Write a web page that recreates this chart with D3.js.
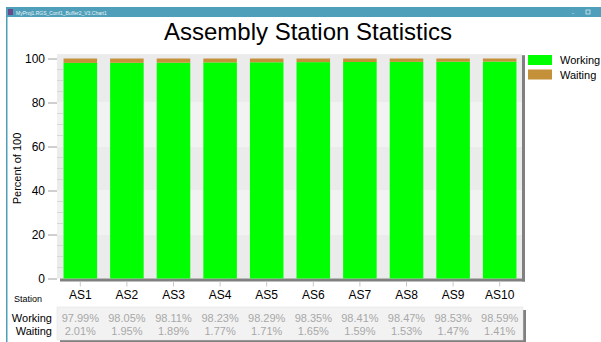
<!DOCTYPE html>
<html><head><meta charset="utf-8">
<script src="https://cdn.jsdelivr.net/npm/d3@7"></script>
<style>body{margin:0;background:#fff;}svg{display:block;font-family:"Liberation Sans",Arial,sans-serif;}</style>
</head><body>
<svg id="c" width="601" height="342"></svg>
<script>
const stations = ["AS1","AS2","AS3","AS4","AS5","AS6","AS7","AS8","AS9","AS10"];
const working = [97.99,98.05,98.11,98.23,98.29,98.35,98.41,98.47,98.53,98.59];
const waiting = [2.01,1.95,1.89,1.77,1.71,1.65,1.59,1.53,1.47,1.41];
const seriesNames = ["Working","Waiting"];
const seriesColors = ["#00ff00","#c4913a"];
const yTicks = [0,20,40,60,80,100];
const titleText = "Assembly Station Statistics";
const windowTitle = "MyProj1.RGS_Conf1_Buffer2_V3.Chart1";

const svg = d3.select("#c");
// window chrome
svg.append("rect").attr("x",6).attr("y",7).attr("width",595).attr("height",10).attr("fill","#4f9fba");
svg.append("rect").attr("x",6).attr("y",7).attr("width",1.5).attr("height",335).attr("fill","#4f9fba");
svg.append("rect").attr("x",8).attr("y",9).attr("width",5).attr("height",6).attr("fill","#6a4a8a");
svg.append("text").attr("x",16).attr("y",14.5).attr("font-size",5).attr("fill","#e8f4f8").text(windowTitle);
svg.append("text").attr("x",572).attr("y",14.5).attr("font-size",6).attr("fill","#e8f4f8").text("-");
svg.append("rect").attr("x",586).attr("y",10).attr("width",4).attr("height",4).attr("fill","none").attr("stroke","#e8f4f8").attr("stroke-width",0.7);

// title
svg.append("text").attr("x",308).attr("y",40).attr("text-anchor","middle").attr("font-size",24).attr("fill","#000").text(titleText);

const x = d3.scaleBand().domain(stations).range([57,523]).paddingInner(0.28).paddingOuter(0.14);
const y = d3.scaleLinear().domain([0,100]).range([278.5,58.5]);
const plotL = 57, plotR = 522, plotT = y(102), plotB = y(0);

// alternating bands
for (let i=0;i<yTicks.length-1;i++){
  const a = yTicks[i], b = (i===yTicks.length-2)?102:yTicks[i+1];
  svg.append("rect").attr("x",plotL).attr("y",y(b)).attr("width",plotR-plotL).attr("height",y(a)-y(b))
    .attr("fill", i%2===0 ? "#ebebeb" : "#f2f2f2");
}
// shadows
svg.append("rect").attr("x",plotR).attr("y",y(101.5)).attr("width",3).attr("height",plotB-y(101.5)+3).attr("fill","#808080");
svg.append("rect").attr("x",60).attr("y",plotB).attr("width",plotR+3-60).attr("height",3).attr("fill","#808080");

// stacked bars
const stackData = stations.map((s,i)=>({station:s, Working:working[i], Waiting:waiting[i]}));
const stack = d3.stack().keys(seriesNames)(stackData);
stack.forEach((layer,li)=>{
  svg.append("g").selectAll("rect").data(layer).join("rect")
    .attr("x",d=>x(d.data.station)).attr("width",x.bandwidth())
    .attr("y",d=>y(d[1])).attr("height",d=>y(d[0])-y(d[1]))
    .attr("fill",seriesColors[li]);
});

// y axis
const yAxis = d3.axisLeft(y).tickValues(yTicks).tickSize(9).tickPadding(3);
const gy = svg.append("g").attr("transform",`translate(${plotL},0)`).call(yAxis);
gy.select(".domain").remove();
gy.selectAll("line").attr("stroke","#a0a0a0");
gy.selectAll("text").attr("font-size",12).attr("fill","#000").attr("font-family","Liberation Sans, Arial, sans-serif");
const minor = d3.range(5,100,5).filter(v=>v%20!==0);
svg.append("g").selectAll("line").data(minor).join("line")
  .attr("x1",plotL).attr("x2",plotL+6).attr("y1",d=>y(d)).attr("y2",d=>y(d)).attr("stroke","#d8d8d8");

svg.append("text").attr("transform",`translate(21,${(y(0)+y(100))/2}) rotate(-90)`).attr("text-anchor","middle")
  .attr("font-size",11).attr("fill","#000").text("Percent of 100");

// x axis
const xAxis = d3.axisBottom(x).tickSize(5).tickPadding(4);
const gx = svg.append("g").attr("transform",`translate(0,${plotB+3})`).call(xAxis);
gx.select(".domain").remove();
gx.selectAll("line").attr("stroke","#c8c8c8");
gx.selectAll("text").attr("font-size",12).attr("fill","#000").attr("font-family","Liberation Sans, Arial, sans-serif");
svg.append("text").attr("x",28).attr("y",302).attr("text-anchor","middle").attr("font-size",9).attr("fill","#000").text("Station");

// data table
svg.append("rect").attr("x",60).attr("y",310).attr("width",466).attr("height",32).attr("fill","#808080");
svg.append("rect").attr("x",57).attr("y",307).attr("width",466).attr("height",33).attr("fill","#f2f2f2").attr("stroke","#e0e0e0").attr("stroke-width",0.5);
const rows = [working, waiting];
rows.forEach((vals,ri)=>{
  const yy = 322 + ri*13;
  svg.append("text").attr("x",52).attr("y",yy).attr("text-anchor","end").attr("font-size",11).attr("fill","#000").text(seriesNames[ri]);
  svg.append("g").selectAll("text").data(vals).join("text")
    .attr("x",(d,i)=>x(stations[i])+x.bandwidth()/2).attr("y",yy).attr("text-anchor","middle")
    .attr("font-size",11).attr("fill","#a8a8a8").text(d=>d.toFixed(2)+"%");
});

// legend
seriesNames.forEach((n,i)=>{
  svg.append("rect").attr("x",528).attr("y",55+i*14.5).attr("width",24).attr("height",10).attr("fill",seriesColors[i]);
  svg.append("text").attr("x",560).attr("y",64+i*14.5).attr("font-size",11).attr("fill","#000").text(n);
});
</script>
</body></html>
